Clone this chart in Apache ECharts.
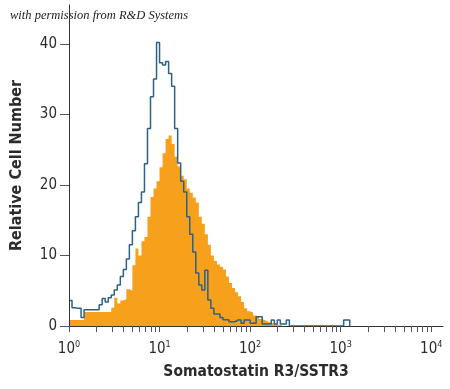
<!DOCTYPE html>
<html>
<head>
<meta charset="utf-8">
<script src="https://cdn.jsdelivr.net/npm/echarts@6/dist/echarts.min.js"></script>
<style>
html,body{margin:0;padding:0;background:#fff;}
#chart{width:450px;height:389px;}
</style>
</head>
<body>
<div id="chart"></div>
<script>
// Histogram bins: uniform in log10(fluorescence), starting at 10^0
const binStartDecade = 0;
const binWidthDecade = 1 / 30;

// Isotype control (blue outline)
const blueCounts = [
  3.6, 2.6, 2.5, 2.5, 1.2, 2.3, 2.3, 2.3, 2.3, 2.3,
  3.0, 3.9, 3.4, 4.0, 4.4, 5.1, 5.8, 7.0, 8.0, 9.5,
  11.5, 13.5, 15.5, 17.5, 19.0, 23.0, 28.0, 32.5, 35.0, 40.2,
  37.3, 37.0, 37.5, 35.8, 34.0, 28.0, 23.1, 20.5, 19.0, 15.5,
  13.0, 10.5, 7.5, 5.8, 5.1, 7.9, 3.7, 2.5, 1.7, 1.7,
  1.2, 0.9, 0.9, 0.6, 0.6, 0.85, 0.85, 0.4, 0.85, 0.85,
  0.4, 0.4, 1.3, 1.3, 0.3, 0.3, 0.3, 0.85, 0.3, 0.85,
  0.3, 0.3, 0.85, 0, 0, 0, 0, 0, 0, 0,
  0, 0, 0, 0, 0, 0, 0, 0, 0, 0,
  0, 0.85, 0.85
];

// Somatostatin R3/SSTR3 stained (orange filled)
const orangeCounts = [
  0.85, 0.85, 0.85, 0.85, 0.85, 2.0, 2.0, 2.0, 2.0, 2.0,
  2.0, 2.0, 2.0, 2.0, 2.6, 4.0, 3.2, 3.6, 3.8, 5.2,
  5.0, 8.6, 11.0, 10.0, 12.0, 12.6, 15.5, 18.3, 19.5, 20.5,
  22.5, 24.5, 26.5, 27.0, 25.8, 24.0, 22.6, 21.3, 20.8, 19.5,
  18.9, 18.2, 17.5, 15.5, 14.5, 13.0, 11.5, 10.0, 9.2, 8.7,
  8.4, 8.0, 7.0, 6.1, 5.4, 4.8, 4.2, 3.4, 2.5, 2.1,
  1.9, 1.5, 1.3, 1.0, 0.8, 0.6, 0.45, 0.35, 0.2, 0.15,
  0.1
];

const yTickValues = [0, 10, 20, 30, 40];
const xDecades = [0, 1, 2, 3, 4];

const xTitle = 'Somatostatin R3/SSTR3';
const yTitle = 'Relative Cell Number';
const credit = 'with permission from R&D Systems';

function toSteps(counts) {
  const pts = counts.map((c, i) => [binStartDecade + i * binWidthDecade, c]);
  pts.push([binStartDecade + counts.length * binWidthDecade, 0]);
  return pts;
}

// minor tick positions (log10 of 1..9 x 10^d)
const minorTicks = [];
for (let d = 0; d < 4; d++) {
  for (let k = 1; k <= 9; k++) minorTicks.push(d + Math.log10(k));
}
minorTicks.push(4);

const labelFont = "'Liberation Sans Narrow', 'DejaVu Sans Condensed', 'Roboto', sans-serif";
const txt = '#2b2b2b';

const chart = echarts.init(document.getElementById('chart'), null, {renderer: 'canvas'});
chart.setOption({
  animation: false,
  backgroundColor: '#ffffff',
  grid: {left: 69, right: 7, top: 5, bottom: 63, containLabel: false},
  graphic: [{
    type: 'text', left: 10, top: 9,
    style: {text: credit, fill: '#222', font: "italic 12.5px 'Liberation Serif', serif"}
  }],
  xAxis: {
    type: 'value', min: 0, max: 4.13, z: 5,
    axisLine: {show: true, onZero: false, lineStyle: {color: '#333', width: 1}},
    axisTick: {show: true, length: 6, customValues: minorTicks, lineStyle: {color: '#555', width: 1}},
    axisLabel: {
      customValues: xDecades, margin: 14, color: txt, fontFamily: labelFont,
      formatter: v => '{b|10}{s|' + Math.round(v) + '}',
      rich: {
        b: {fontSize: 15, fontFamily: labelFont, color: txt, lineHeight: 18},
        s: {fontSize: 9, fontFamily: labelFont, color: txt, verticalAlign: 'top', lineHeight: 9}
      }
    },
    splitLine: {show: false},
    name: xTitle, nameLocation: 'middle', nameGap: 38,
    nameTextStyle: {fontSize: 15.5, fontWeight: 'bold', fontFamily: labelFont, color: txt}
  },
  yAxis: {
    type: 'value', min: 0, max: 45.5, z: 5,
    axisLine: {show: true, lineStyle: {color: '#333', width: 1}},
    axisTick: {show: true, length: 9, customValues: yTickValues, lineStyle: {color: '#555'}},
    axisLabel: {customValues: yTickValues, margin: 12, fontSize: 15, color: txt, fontFamily: labelFont},
    splitLine: {show: false},
    name: yTitle, nameLocation: 'middle', nameGap: 44, nameRotate: 90,
    nameTextStyle: {fontSize: 16, fontWeight: 'bold', fontFamily: labelFont, color: txt}
  },
  series: [
    {
      name: 'SSTR3', type: 'line', step: 'end', symbol: 'none', z: 2,
      data: toSteps(orangeCounts),
      lineStyle: {width: 0},
      areaStyle: {color: '#f6a01c', opacity: 1}
    },
    {
      name: 'Isotype', type: 'line', step: 'end', symbol: 'none', z: 3,
      data: toSteps(blueCounts),
      lineStyle: {color: '#2d6188', width: 1.5}
    }
  ]
});
</script>
</body>
</html>
